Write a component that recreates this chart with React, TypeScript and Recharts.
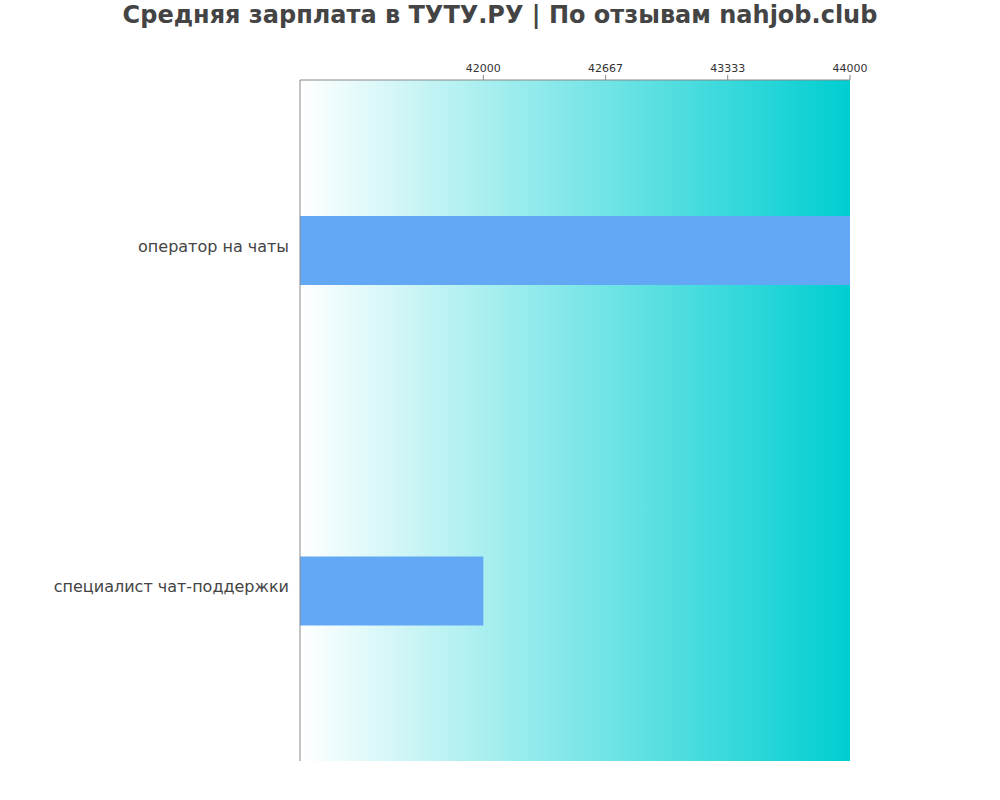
import React from "react";
import { BarChart, Bar, XAxis, YAxis, CartesianGrid } from "recharts";

const categories = ["оператор на чаты", "специалист чат-поддержки"];
const salaries = [44000, 42000];
const xTicks = [42000, 42667, 43333, 44000];
const xDomain = [41000, 44000];

const data = categories.map((name, i) => ({ name, value: salaries[i] }));

const FONT = "'DejaVu Sans', sans-serif";

export default function App() {
  return (
    <div style={{ position: "absolute", left: 0, top: 0, width: 1000, height: 800, background: "#fff" }}>
      <div
        style={{
          position: "absolute",
          left: 0,
          top: 0,
          width: 1000,
          textAlign: "center",
          fontFamily: FONT,
          fontWeight: "bold",
          fontSize: 24,
          color: "#444",
          lineHeight: "30px",
        }}
      >
        Средняя зарплата в ТУТУ.РУ | По отзывам nahjob.club
      </div>
      <BarChart
        width={1000}
        height={800}
        data={data}
        layout="vertical"
        margin={{ top: 50, right: 150, bottom: 39, left: 0 }}
        barCategoryGap={0}
      >
        <defs>
          <linearGradient id="bg" x1="0" y1="0" x2="1" y2="0">
            <stop offset="0%" stopColor="#ffffff" />
            <stop offset="100%" stopColor="#00ced1" />
          </linearGradient>
        </defs>
        <CartesianGrid fill="url(#bg)" fillOpacity={1} horizontal={false} vertical={false} />
        <XAxis
          type="number"
          orientation="top"
          domain={xDomain}
          ticks={xTicks}
          height={30}
          allowDataOverflow
          stroke="#888"
          tickLine={{ stroke: "#888" }}
          tickSize={5}
          tickMargin={3}
          tick={{ fontSize: 11, fill: "#333", fontFamily: FONT }}
        />
        <YAxis
          type="category"
          dataKey="name"
          width={300}
          stroke="#888"
          tickLine={false}
          tickSize={0}
          tickMargin={11}
          tick={{ fontSize: 16, fill: "#444", fontFamily: FONT, dy: -4 }}
        />
        <Bar dataKey="value" fill="#63a8f5" barSize={69} isAnimationActive={false} />
      </BarChart>
    </div>
  );
}
